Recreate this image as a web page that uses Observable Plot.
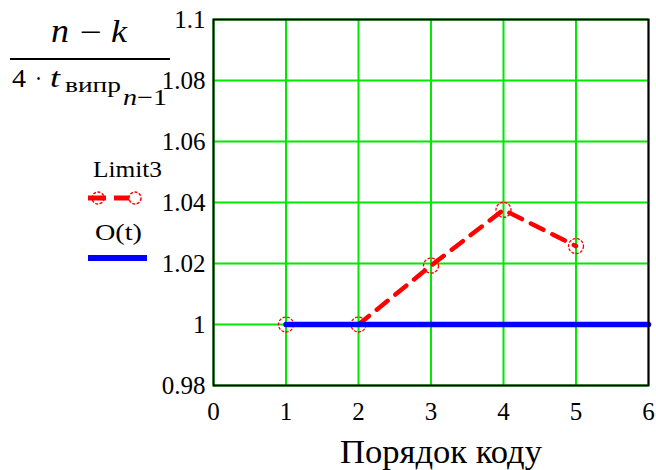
<!DOCTYPE html>
<html><head><meta charset="utf-8">
<script src="https://cdn.jsdelivr.net/npm/d3@7"></script>
<script src="https://cdn.jsdelivr.net/npm/@observablehq/plot@0.6"></script>
<style>
body{margin:0;background:#fff;}
#wrap{position:relative;width:656px;height:470px;}
#wrap, #wrap *{font-family:"Liberation Serif","Times New Roman",serif !important;}
#over{position:absolute;left:0;top:0;pointer-events:none;}
</style></head>
<body><div id="wrap"></div>
<script>
const order = [1, 2, 3, 4, 5];
const limit3 = [1, 1, 1.0193, 1.0376, 1.0257];
const oX = [1, 6];
const oY = [1, 1];
const yTicks = [0.98, 1, 1.02, 1.04, 1.06, 1.08, 1.1];
const xTicks = [0, 1, 2, 3, 4, 5, 6];
const xTitle = "Порядок коду";
const legendNames = ["Limit3", "O(t)"];

const pts = order.map((x, i) => ({x, y: limit3[i]}));
const oLine = oX.map((x, i) => ({x, y: oY[i]}));
const fy = d => String(+d.toFixed(2));
const ff = '"Liberation Serif","Times New Roman",serif';

const chart = Plot.plot({
  width: 656, height: 470,
  marginLeft: 213, marginTop: 19, marginRight: 8, marginBottom: 85,
  style: {fontFamily: ff, fontSize: "25px", color: "#000", background: "#fff"},
  x: {domain: [0, 6]},
  y: {domain: [0.98, 1.1]},
  marks: [
    Plot.gridX(xTicks, {stroke: "#00e800", strokeOpacity: 1, strokeWidth: 2}),
    Plot.gridY(yTicks, {stroke: "#00e800", strokeOpacity: 1, strokeWidth: 2}),
    Plot.axisX({ticks: xTicks, tickSize: 0, tickPadding: 17, label: null, fill: "#000", fontSize: 25, fontFamily: ff, tickFormat: d => String(d)}),
    Plot.axisY({ticks: yTicks, tickSize: 0, tickPadding: 8, label: null, fill: "#000", fontSize: 25, fontFamily: ff, tickFormat: fy}),
    Plot.line(pts, {x: "x", y: "y", stroke: "#ff0000", strokeWidth: 4.5, strokeDasharray: "14,10"}),
    Plot.dot(pts, {x: "x", y: "y", r: 7.5, stroke: "#ff0000", strokeWidth: 1.3, fill: "none", strokeDasharray: "3,1.5"}),
    Plot.line(oLine, {x: "x", y: "y", stroke: "#0000ff", strokeWidth: 5.5}),
    Plot.frame({stroke: "#000", strokeWidth: 2})
  ]
});
const wrap = document.getElementById("wrap");
wrap.appendChild(chart);

const ns = "http://www.w3.org/2000/svg";
const over = document.createElementNS(ns, "svg");
over.setAttribute("id", "over");
over.setAttribute("width", 656);
over.setAttribute("height", 470);
const g = (x, y, size, txt, len, extra = "") =>
  `<text x="${x}" y="${y}" font-size="${size}" fill="#000" textLength="${len}" lengthAdjust="spacingAndGlyphs" ${extra}>${txt}</text>`;
over.innerHTML =
  // fraction
  g(51, 42, 34, "n", 18, 'font-style="italic"') +
  g(80, 42, 30, "−", 22) +
  g(111, 42, 32, "k", 16, 'font-style="italic"') +
  '<line x1="10" y1="59" x2="170" y2="59" stroke="#000" stroke-width="2"/>' +
  g(12, 87, 25, "4", 14) +
  g(35, 87, 25, "·", 7) +
  g(50, 87, 28, "t", 10, 'font-style="italic"') +
  g(65, 92, 21, "випр", 56) +
  g(123, 105, 23, '<tspan font-style="italic">n</tspan>−1', 44) +
  // legend
  g(93, 177, 23, legendNames[0], 69) +
  '<line x1="88" y1="198" x2="106" y2="198" stroke="#ff0000" stroke-width="5"/>' +
  '<line x1="114" y1="198" x2="135" y2="198" stroke="#ff0000" stroke-width="5"/>' +
  '<circle cx="98" cy="198" r="6" fill="none" stroke="#ff0000" stroke-width="1.5" stroke-dasharray="3,1.5"/>' +
  '<circle cx="135" cy="198" r="6" fill="#fff" stroke="#ff0000" stroke-width="1.5" stroke-dasharray="3,1.5"/>' +
  g(95, 240, 24, legendNames[1], 47) +
  '<line x1="88" y1="258" x2="147" y2="258" stroke="#0000ff" stroke-width="6"/>' +
  // x title
  g(340, 463, 34, xTitle, 202);
wrap.appendChild(over);
</script></body></html>
